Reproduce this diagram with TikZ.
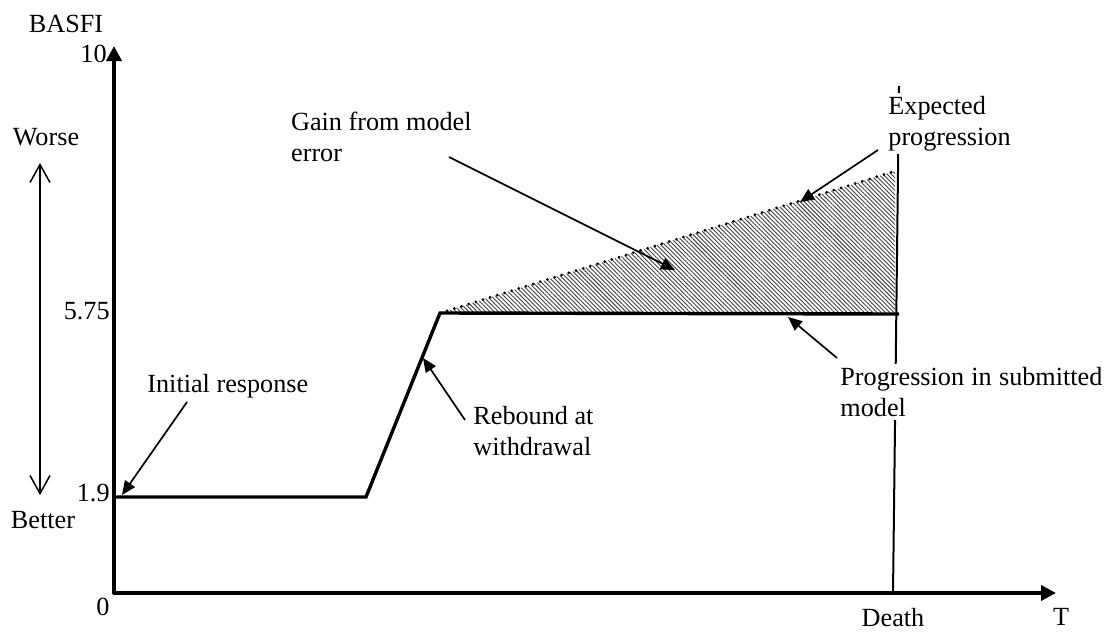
\documentclass[tikz,border=0pt]{standalone}
\usepackage{fontspec}
\setmainfont{Liberation Serif}
\usetikzlibrary{arrows.meta,patterns.meta}
\begin{document}
\begin{tikzpicture}[x=0.5pt,y=-0.5pt,
  every node/.style={font=\fontsize{13.1}{15.5}\selectfont, inner sep=0pt},
  axisline/.style={line width=2.3pt, -{Triangle[length=7.5pt,width=7.5pt]}},
  curveline/.style={line width=1.7pt, line join=miter},
  dotline/.style={line width=1.5pt, line cap=round, dash pattern=on 0pt off 3.75pt},
  hatcharea/.style={pattern={Lines[angle=-45,distance=1.5pt,line width=0.45pt]}, pattern color=black!75},
  notearrow/.style={line width=0.85pt, -{Triangle[length=7pt,width=6pt]}},
  scalearrow/.style={line width=0.75pt, {Straight Barb[length=9pt,width=10pt]}-{Straight Barb[length=9pt,width=10pt]}},
  deathline/.style={line width=1pt},
  whitelbl/.style={fill=white, inner ysep=1.5pt}
]
\useasboundingbox (0,0) rectangle (1106,632);

% coordinates
\coordinate (origin) at (114,594);
\coordinate (ytip) at (114,46);
\coordinate (xstart) at (113,593);
\coordinate (xtip) at (1056,593);
\coordinate (p0) at (115,497);
\coordinate (p1) at (366,497);
\coordinate (p2) at (440,313);
\coordinate (p3) at (899,314);
\coordinate (q3) at (895,314);
\coordinate (e3) at (895,171);
\coordinate (deathtop) at (899,86);
\coordinate (deathbot) at (893,593);
\coordinate (rtop) at (40,163);
\coordinate (rbot) at (40,495);

% hatched gain area
\fill[hatcharea] (p2) -- (e3) -- (q3) -- cycle;
\draw[dotline] (p2) -- (e3);

% death line
\draw[deathline] (deathtop) -- (deathbot);

% axes
\draw[axisline] (origin) -- (ytip);
\draw[axisline] (xstart) -- (xtip);

% data curve
\draw[curveline] (p0) -- (p1) -- (p2) -- (p3);

% axis labels
\node (basfi) at (66,24) {BASFI};
\node[anchor=east] (l10) at (107,54) {10};
\node[anchor=east] (l575) at (110,311) {5.75};
\node[anchor=east] (l19) at (110,493) {1.9};
\node (l0) at (103,607) {0};
\node (death) at (893,618) {Death};
\node (tlab) at (1061,617) {T};

% worse / better
\node (worse) at (46,137) {Worse};
\node (better) at (43,520) {Better};
\draw[scalearrow] (rtop) -- (rbot);

% annotations
\node[anchor=base west] (init) at (147,392) {Initial response};
\coordinate (initA) at (187,402);
\coordinate (initB) at (122,495);
\draw[notearrow] (initA) -- (initB);

\node[anchor=north west, align=left] (rebound) at (473,406) {Rebound at\\withdrawal};
\coordinate (rebA) at (465,420);
\coordinate (rebB) at (423,358);
\draw[notearrow] (rebA) -- (rebB);

\node[anchor=north east, align=left] (gain) at (472,112) {Gain from model\\error};
\coordinate (gainA) at (449,157);
\coordinate (gainB) at (675,270);
\draw[notearrow] (gainA) -- (gainB);

\node[anchor=north west, align=left, whitelbl] (expected) at (888,93) {Expected\\progression};
\coordinate (expA) at (878,150);
\coordinate (expB) at (800,202);
\draw[notearrow] (expA) -- (expB);

\node[anchor=north west, align=left, whitelbl] (progsub) at (840,364) {\makebox[131pt][s]{Progression in submitted}\\model};
\coordinate (proA) at (837,358);
\coordinate (proB) at (788,317);
\draw[notearrow] (proA) -- (proB);
\end{tikzpicture}
\end{document}
